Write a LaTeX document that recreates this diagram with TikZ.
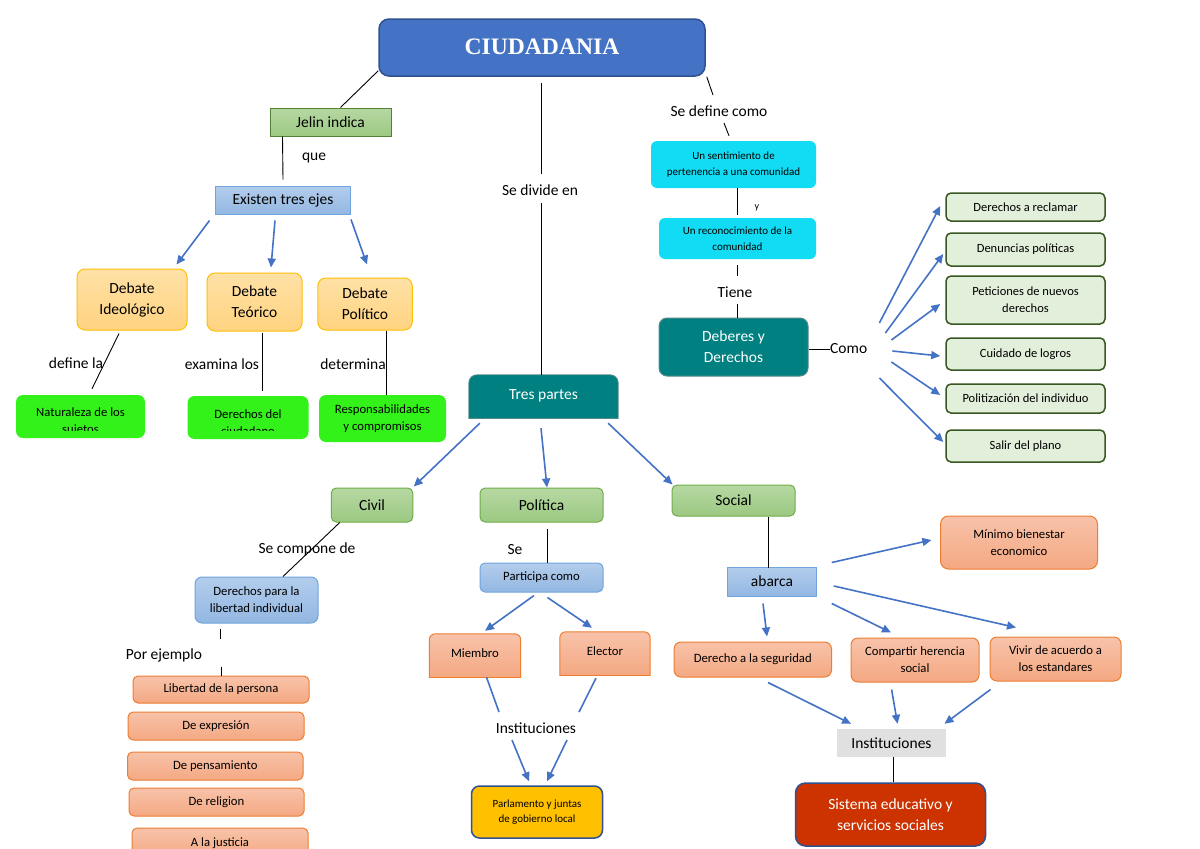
\documentclass[tikz,border=0pt]{standalone}
\usepackage{fontspec}
\setmainfont{Carlito}
\newfontfamily\titlefont{Liberation Serif}
\usetikzlibrary{arrows.meta,calc}
\pgfdeclarelayer{bg}
\pgfsetlayers{bg,main}
\definecolor{titleblue}{HTML}{4472C4}
\definecolor{titleedge}{HTML}{2F528F}
\definecolor{arrblue}{HTML}{4472C4}
\definecolor{grtop}{HTML}{B6D8A3}
\definecolor{grbot}{HTML}{9CC982}
\definecolor{gredge}{HTML}{70AD47}
\definecolor{jeledge}{HTML}{548235}
\definecolor{bltop}{HTML}{B3CDEC}
\definecolor{blbot}{HTML}{93B7E2}
\definecolor{bledge}{HTML}{6FA5DC}
\definecolor{yltop}{HTML}{FFE1A6}
\definecolor{ylbot}{HTML}{FFD380}
\definecolor{yledge}{HTML}{FFC000}
\definecolor{brgreen}{HTML}{33F21A}
\definecolor{cyanb}{HTML}{12DCF4}
\definecolor{tealc}{HTML}{008080}
\definecolor{tealedge}{HTML}{5A8A8A}
\definecolor{lgfill}{HTML}{E2EFDA}
\definecolor{lgedge}{HTML}{385723}
\definecolor{ortop}{HTML}{F8C3AA}
\definecolor{orbot}{HTML}{F4A882}
\definecolor{oredge}{HTML}{ED7D31}
\definecolor{goldb}{HTML}{FFC000}
\definecolor{redb}{HTML}{CC3300}
\definecolor{grayb}{HTML}{E0E0E0}
\newcommand\toprnd[4]{%
 \begin{scope}
  \clip[rounded corners=#4] ($(#1.south west)+(0,20)$) rectangle (#1.north east);
  \path[#2] (#1.south west) rectangle (#1.north east);
 \end{scope}
 \begin{scope}
  \clip ($(#1.south west)+(-3,0)$) rectangle ($(#1.north east)+(3,-3)$);
  \draw[#3, rounded corners=#4] ($(#1.south west)+(0,20)$) rectangle (#1.north east);
 \end{scope}
 \draw[#3] (#1.south west) -- (#1.south east);
}
\tikzset{
 lbl/.style={inner sep=0pt, font=\fontsize{15.5}{21}\selectfont},
 bx/.style={inner sep=0pt, align=center, font=\fontsize{15.5}{21}\selectfont},
 sm/.style={font=\fontsize{12.7}{17}\selectfont},
 tn/.style={font=\fontsize{11}{15.5}\selectfont},
 sz/.style 2 args={minimum width=#1, minimum height=#2},
 grbox/.style={bx, draw=gredge, line width=1pt, top color=grtop, bottom color=grbot},
 blbox/.style={bx, draw=bledge, line width=1pt, top color=bltop, bottom color=blbot},
 debox/.style={bx, draw=yledge, line width=1pt, top color=yltop, bottom color=ylbot, rounded corners=8pt},
 bgbox/.style={bx, sm, fill=brgreen, rounded corners=7pt},
 cybox/.style={bx, tn, fill=cyanb, rounded corners=6pt},
 lgbox/.style={bx, font=\fontsize{12.5}{17}\selectfont, draw=lgedge, line width=1.5pt, fill=lgfill, rounded corners=5pt},
 orbox/.style={bx, sm, draw=oredge, line width=1pt, top color=ortop, bottom color=orbot, rounded corners=5pt},
 conn/.style={draw=black, line width=0.9pt},
 bline/.style={draw=arrblue, line width=1.6pt},
 arr/.style={draw=arrblue, line width=1.6pt, -{Triangle[length=9pt,width=8pt]}},
}
\begin{document}
\begin{tikzpicture}[x=1pt,y=-1pt]
\useasboundingbox (0,0) rectangle (1200,849);
% ---- top
\node[bx, draw=titleedge, line width=1.5pt, fill=titleblue, rounded corners=10pt, sz={326pt}{57pt}, text=white, font=\titlefont\bfseries\fontsize{23.6}{28}\selectfont] (title) at (542,47.5) {\raisebox{2pt}{CIUDADANIA}};
% ---- left branch
\node[grbox, draw=jeledge, sz={121pt}{28pt}] (jelin) at (330.5,122) {Jelin indica};
\node[lbl] (que) at (314,158) {que};
\node[blbox, sz={135pt}{28pt}] (ejes) at (283,200) {Existen tres ejes};
\node[debox, sz={110pt}{61pt}] (dideo) at (132,299.5) {Debate\\Ideológico};
\node[debox, sz={95pt}{58pt}] (dteo) at (254.5,302) {Debate\\Teórico};
\node[debox, sz={94.5pt}{52pt}] (dpol) at (365,304) {Debate\\Político};
\node[lbl] (definela) at (76,363) {define la};
\node[lbl] (examina) at (222,364) {examina los};
\node[lbl] (determina) at (353,364) {determina};
\node[bgbox, sz={129pt}{43pt}] (natur) at (80.5,416.5) {};
\node[bgbox, sz={121pt}{43pt}] (dciud) at (248,417.5) {};
\node[bgbox, sz={127pt}{47pt}] (resp) at (382.5,418.5) {Responsabilidades\\y compromisos};
\begin{scope}
 \clip (natur.north west) rectangle ($(dciud.south east)+(0,-9)$);
 \node[bx, sm] (naturT) at (80.5,422) {Naturaleza de los\\sujetos};
 \node[bx, sm] (dciudT) at (248,423) {Derechos del\\ciudadano};
\end{scope}
% ---- middle
\node[lbl] (sedivide) at (540,190) {Se divide en};
\node[bx, text=white, sz={149pt}{43pt}] (tres) at (543.5,396.5) {\raisebox{3pt}{Tres partes}};
% ---- right branch
\node[lbl] (sedef) at (719,111) {Se define como};
\node[cybox, sz={165pt}{47pt}] (sent) at (733.5,164.5) {Un sentimiento de\\pertenencia a una comunidad};
\node[lbl, font=\fontsize{10}{12}\selectfont] (ylbl) at (757,208) {y};
\node[cybox, sz={157pt}{41pt}] (recon) at (737.5,238.5) {Un reconocimiento de la\\comunidad};
\node[lbl] (tiene) at (735,292) {Tiene};
\node[bx, text=white, draw=tealedge, line width=1pt, fill=tealc, rounded corners=8pt, sz={149pt}{58pt}] (deberes) at (733.5,347) {Deberes y\\Derechos};
\node[lbl, anchor=west] (como) at (830,349) {Como};
\node[lgbox, sz={159pt}{28pt}] (rec) at (1025.5,207) {Derechos a reclamar};
\node[lgbox, sz={159pt}{33pt}] (den) at (1025.5,249.5) {Denuncias políticas};
\node[lgbox, sz={159pt}{48pt}] (pet) at (1025.5,300) {Peticiones de nuevos\\derechos};
\node[lgbox, sz={159pt}{32pt}] (cui) at (1025.5,354) {Cuidado de logros};
\node[lgbox, sz={159pt}{29pt}] (pol) at (1025.5,398.5) {Politización del individuo};
\node[lgbox, sz={159pt}{32pt}] (sal) at (1025.5,446) {Salir del plano};
% ---- three parts
\node[grbox, rounded corners=5pt, sz={81.5pt}{34pt}] (civil) at (372,505) {Civil};
\node[grbox, rounded corners=5pt, sz={123pt}{34pt}] (politica) at (541.5,505) {Política};
\node[grbox, rounded corners=5pt, sz={123pt}{31pt}] (social) at (733.5,500.5) {Social};
% civil
\node[lbl] (secomp) at (307,549) {Se compone de};
\node[blbox, sm, rounded corners=7pt, sz={123pt}{46pt}] (derlib) at (256.5,600) {Derechos para la\\libertad individual};
\node[lbl] (porej) at (164,655) {Por ejemplo};
\node[orbox, sz={176pt}{27pt}] (lib) at (221,689.5) {Libertad de la persona};
\node[orbox, sz={176pt}{28pt}] (expr) at (216,726) {De expresión};
\node[orbox, sz={175.5pt}{28pt}] (pens) at (215.25,766) {De pensamiento};
\node[orbox, sz={175pt}{28pt}] (reli) at (216.5,802) {De religion};
\node[orbox, sz={176pt}{30pt}] (just) at (220,843) {A la justicia};
% politica
\node[lbl] (se) at (515,550) {Se};
\node[blbox, sm, rounded corners=5pt, sz={123pt}{29pt}] (particip) at (541.5,577.5) {Participa como};
\node[bx, sm, sz={91pt}{43pt}] (miembro) at (475,655.5) {\raisebox{4pt}{Miembro}};
\node[bx, sm, sz={90pt}{43pt}] (elector) at (605,653.5) {\raisebox{5pt}{Elector}};
\node[lbl] (inst1) at (536,728) {Instituciones};
\node[bx, tn, draw=titleedge, line width=1.5pt, fill=goldb, rounded corners=8pt, sz={131pt}{52pt}] (parl) at (537,812) {Parlamento y juntas\\de gobierno local};
% social
\node[blbox, sz={89.5pt}{29pt}] (abarca) at (772,581.5) {abarca};
\node[orbox, rounded corners=8pt, sz={157pt}{53pt}] (minimo) at (1019,542.5) {Mínimo bienestar\\economico};
\node[orbox, rounded corners=7pt, sz={157.5pt}{35pt}] (derseg) at (752.75,659.5) {Derecho a la seguridad};
\node[orbox, rounded corners=7pt, sz={128pt}{44pt}] (comp) at (915,660) {Compartir herencia\\social};
\node[orbox, rounded corners=7pt, sz={131pt}{44pt}] (vivir) at (1055.5,659) {Vivir de acuerdo a\\los estandares};
\node[bx, fill=grayb, sz={109.5pt}{28pt}] (inst2) at (891.5,743) {Instituciones};
\node[bx, text=white, draw=titleedge, line width=1.5pt, fill=redb, rounded corners=10pt, sz={190pt}{63pt}, font=\fontsize{15.5}{20.5}\selectfont] (sist) at (890.5,814.5) {Sistema educativo y\\servicios sociales};
% ---- background shapes
\begin{pgfonlayer}{bg}
\fill[white] (0,0) rectangle (1200,849);
\toprnd{tres}{fill=tealc}{draw=tealedge, line width=0.8pt}{8pt}
\toprnd{miembro}{top color=ortop, bottom color=orbot}{draw=oredge, line width=1pt}{6pt}
\toprnd{elector}{top color=ortop, bottom color=orbot}{draw=oredge, line width=1pt}{6pt}
\end{pgfonlayer}
% ---- connectors
\draw[conn] ($(title.south west)+(0,-6)$) -- ($(jelin.north)+(10,0)$);
\draw[conn] ($(jelin.south west)+(13,0)$) -- ($(ejes.north)+(0,-6)$);
\draw[arr] ($(ejes.south west)+(-5.5,6)$) -- ($(dideo.north east)+(-11,-4)$);
\draw[arr] ($(ejes.south)+(-8,6)$) -- ($(dteo.north)+(16.5,-5)$);
\draw[arr] ($(ejes.south east)+(0,5)$) -- ($(dpol.north)+(2,-13)$);
\draw[conn] ($(dideo.south)+(-13,3)$) -- ($(natur.north)+(11.5,-6)$);
\draw[conn] ($(dteo.south)+(7.5,1)$) -- ($(dciud.north)+(14,-5)$);
\draw[conn] ($(dpol.south)+(21,0)$) -- ($(resp.north)+(3.5,0)$);
\draw[conn] ($(title.south)+(-1,6)$) -- ($(sedivide.center)+(1,-16)$);
\draw[conn] ($(sedivide.center)+(1,13)$) -- ($(tres.north)+(-2.5,0)$);
\draw[conn] ($(title.south east)+(1,0)$) -- ($(sedef.center)+(-6,-16)$);
\draw[conn] ($(sedef.center)+(5,12)$) -- ($(sent.north)+(-4.5,-5)$);
\draw[conn] ($(sent.south)+(3.5,0)$) -- ($(recon.north)+(-0.5,-3)$);
\draw[conn] ($(recon.south)+(-0.5,6)$) -- ($(tiene.center)+(2,-16)$);
\draw[conn] ($(tiene.center)+(2,12)$) -- ($(deberes.north)+(3.5,0)$);
\draw[conn] ($(deberes.east)+(0,2)$) -- (como.west);
\draw[arr] ($(como.east)+(12,-26)$) -- ($(rec.west)+(-5,-1)$);
\draw[arr] ($(como.east)+(18,-16)$) -- ($(den.west)+(-2,4.5)$);
\draw[arr] ($(como.east)+(24,-9)$) -- ($(pet.west)+(-5,4)$);
\draw[arr] ($(como.east)+(25,2)$) -- ($(cui.west)+(-5,2)$);
\draw[arr] ($(como.east)+(24,13)$) -- ($(pol.west)+(-5,-3.5)$);
\draw[arr] ($(como.east)+(12,29)$) -- ($(sal.west)+(-2,-4)$);
\draw[arr] ($(tres.south west)+(11,5)$) -- ($(civil.north east)+(0.5,-1)$);
\draw[arr] ($(tres.south)+(-2.5,10)$) -- ($(politica.north)+(5.5,0)$);
\draw[arr] ($(tres.south east)+(-10,5)$) -- ($(social.north west)+(1,0)$);
\draw[conn] ($(civil.south west)+(9,0)$) -- ($(derlib.north)+(26.5,0)$);
\draw[conn] ($(derlib.south west)+(26,5)$) -- ++(0,10);
\draw[conn] ($(lib.north)+(0,-9)$) -- (lib.north);
\draw[conn] ($(politica.south)+(6,6)$) -- ($(particip.north)+(6,0)$);
\draw[arr] ($(particip.south)+(-7.5,3)$) -- ($(miembro.north)+(10,-3)$);
\draw[arr] ($(particip.south)+(6,5)$) -- ($(elector.north)+(-13,-4)$);
\draw[bline] ($(miembro.south)+(11.5,0)$) -- ($(inst1.center)+(-37,-16)$);
\draw[bline] ($(elector.south)+(-9,3)$) -- ($(inst1.center)+(43,-16)$);
\draw[arr] ($(inst1.center)+(-24,12)$) -- ($(parl.north)+(-8,-4)$);
\draw[arr] ($(inst1.center)+(31,12)$) -- ($(parl.north)+(10,-4)$);
\draw[conn] ($(social.south)+(34.5,0)$) -- ($(abarca.north)+(-4,1)$);
\draw[arr] ($(abarca.north east)+(14.5,-4)$) -- ($(minimo.west)+(-8.6,-2.5)$);
\draw[arr] ($(abarca.south)+(-9,7)$) -- ($(derseg.north)+(14.25,-5)$);
\draw[arr] ($(abarca.south east)+(14.5,7)$) -- ($(comp.north)+(-24,-5)$);
\draw[arr] ($(abarca.east)+(16.5,4.5)$) -- ($(vivir.north)+(-39.5,-9)$);
\draw[arr] ($(derseg.south)+(15.25,5)$) -- ($(inst2.north west)+(14.5,-5)$);
\draw[arr] ($(comp.south)+(-23.4,7)$) -- ($(inst2.north)+(6,-5)$);
\draw[arr] ($(vivir.south west)+(1,8)$) -- ($(inst2.north east)+(-2,-5)$);
\draw[conn] ($(inst2.south)+(1.5,0)$) -- ($(sist.north)+(2.5,0)$);
\end{tikzpicture}
\end{document}
